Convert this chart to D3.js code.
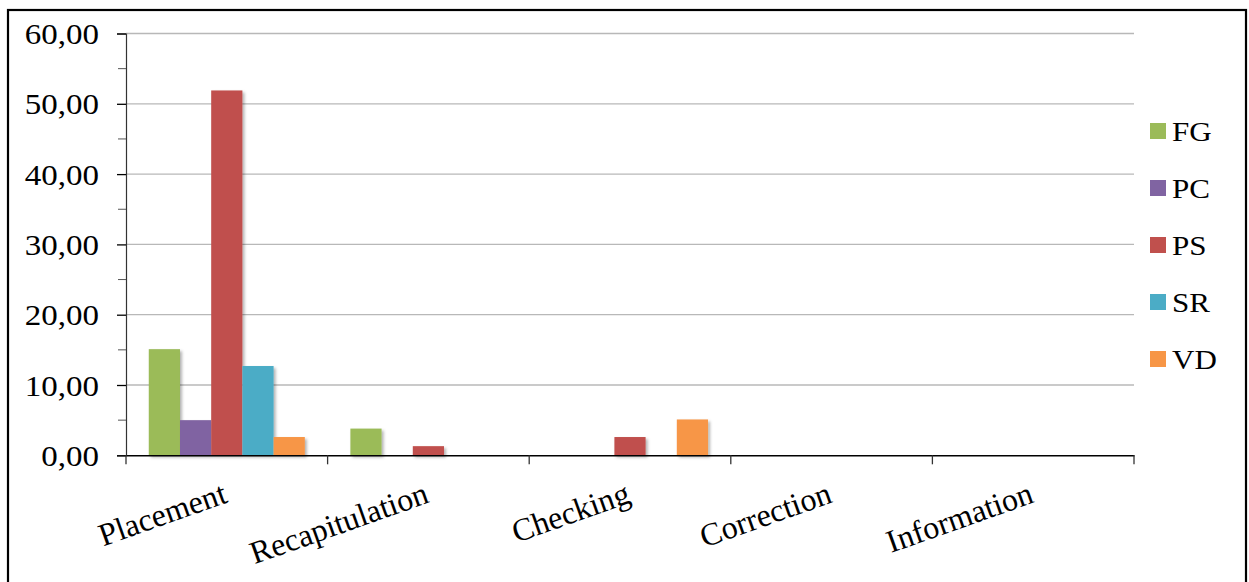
<!DOCTYPE html>
<html>
<head>
<meta charset="utf-8">
<script src="https://cdn.jsdelivr.net/npm/d3@7/dist/d3.min.js"></script>
<style>
  html, body { margin: 0; padding: 0; background: #fff; }
  svg { display: block; }
  text { font-family: "Liberation Serif", "Times New Roman", serif; fill: #000; }
</style>
</head>
<body>
<svg id="chart" width="1249" height="582"></svg>
<script>
// Categories of the grouped bar chart
const categories = ["Placement", "Recapitulation", "Checking", "Correction", "Information"];
// Series (one bar per series inside each category)
const seriesNames = ["FG", "PC", "PS", "SR", "VD"];
const seriesColors = ["#9BBB59", "#8064A2", "#C0504D", "#4BACC6", "#F79646"];
// Values per series, in category order
const FG = [15.1, 3.8, 0, 0, 0];
const PC = [5.0, 0, 0, 0, 0];
const PS = [51.9, 1.3, 2.6, 0, 0];
const SR = [12.7, 0, 0, 0, 0];
const VD = [2.6, 0, 5.1, 0, 0];
const seriesValues = [FG, PC, PS, SR, VD];
// Value axis ticks
const majorTicks = [0, 10, 20, 30, 40, 50, 60];
const minorTicks = [5, 15, 25, 35, 45, 55];

const svg = d3.select("#chart");

const plot = { left: 126, right: 1134, top: 33.5, bottom: 455.3 };

const x = d3.scaleBand().domain(categories).range([plot.left, plot.right]).paddingInner(0).paddingOuter(0);
const xSub = d3.scaleBand().domain(seriesNames).range([0, x.bandwidth()]).paddingInner(0).paddingOuter(0.73);
const y = d3.scaleLinear().domain([0, 60]).range([plot.bottom, plot.top]);

// drop shadow for bars
const defs = svg.append("defs");
const f = defs.append("filter").attr("id", "shadow").attr("x", "-20%").attr("y", "-20%").attr("width", "150%").attr("height", "150%");
f.append("feDropShadow").attr("dx", 2).attr("dy", 2).attr("stdDeviation", 1.6)
  .attr("flood-color", "#000").attr("flood-opacity", 0.3);

// outer frame
svg.append("rect").attr("x", 8).attr("y", 10).attr("width", 1238).attr("height", 600)
  .attr("fill", "none").attr("stroke", "#000").attr("stroke-width", 2.2);

// horizontal gridlines
svg.append("g").selectAll("line").data(majorTicks.filter(d => d > 0)).join("line")
  .attr("x1", plot.left).attr("x2", plot.right)
  .attr("y1", d => y(d)).attr("y2", d => y(d))
  .attr("stroke", "#b8b8b8").attr("stroke-width", 1.3);

// bars
const rows = [];
seriesNames.forEach((s, si) => {
  categories.forEach((c, ci) => {
    rows.push({ series: s, cat: c, value: seriesValues[si][ci], color: seriesColors[si] });
  });
});
svg.append("g").attr("filter", "url(#shadow)").selectAll("rect")
  .data(rows.filter(d => d.value > 0)).join("rect")
  .attr("x", d => x(d.cat) + xSub(d.series))
  .attr("width", xSub.bandwidth())
  .attr("y", d => y(d.value))
  .attr("height", d => y(0) - y(d.value))
  .attr("fill", d => d.color);

// value axis
const yAxis = svg.append("g").attr("transform", `translate(${plot.left},0)`)
  .call(d3.axisLeft(y).tickValues(majorTicks).tickSize(9).tickFormat(() => ""));
yAxis.select(".domain").attr("stroke", "#333").attr("stroke-width", 1.2);
yAxis.selectAll(".tick line").attr("stroke", "#000").attr("stroke-width", 1.3);
svg.append("g").selectAll("line").data(minorTicks).join("line")
  .attr("x1", plot.left - 8).attr("x2", plot.left)
  .attr("y1", d => y(d)).attr("y2", d => y(d))
  .attr("stroke", "#555").attr("stroke-width", 1);

// value labels (decimal comma)
svg.append("g").selectAll("text").data(majorTicks).join("text")
  .attr("transform", d => `translate(99,${y(d) + 10.5}) scale(1.1,1)`)
  .attr("text-anchor", "end")
  .attr("font-size", 30)
  .text(d => d3.format(".2f")(d).replace(".", ","));

// category axis
const xAxis = svg.append("g").attr("transform", `translate(0,${plot.bottom})`)
  .call(d3.axisBottom(x).tickSize(0).tickFormat(() => ""));
xAxis.select(".domain").attr("stroke", "#000").attr("stroke-width", 1.6);
const catEdges = categories.map(c => x(c)).concat([plot.right]);
svg.append("g").selectAll("line").data(catEdges).join("line")
  .attr("x1", d => d).attr("x2", d => d)
  .attr("y1", plot.bottom).attr("y2", plot.bottom + 9)
  .attr("stroke", "#333").attr("stroke-width", 1.3);

// rotated category labels
svg.append("g").selectAll("text").data(categories).join("text")
  .attr("transform", c => `translate(${x(c) + x.bandwidth() / 2 + 2},502) rotate(-19.5)`)
  .attr("text-anchor", "end")
  .attr("font-size", 32)
  .text(c => c);

// legend
const legend = svg.append("g").selectAll("g").data(seriesNames).join("g")
  .attr("transform", (d, i) => `translate(1150,${131 + i * 57})`);
legend.append("rect").attr("x", 0).attr("y", -8).attr("width", 16).attr("height", 16)
  .attr("fill", (d, i) => seriesColors[i]);
legend.append("text").attr("transform", "translate(22,9.5) scale(1.15,1)")
  .attr("font-size", 27).text(d => d);
</script>
</body>
</html>
